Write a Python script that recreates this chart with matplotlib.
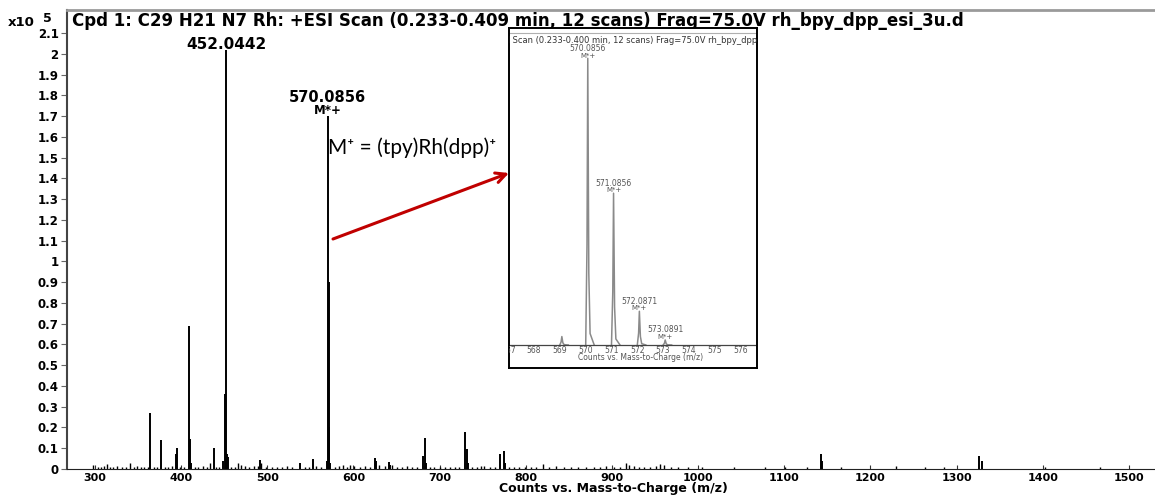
import matplotlib
matplotlib.use('Agg')
import matplotlib.pyplot as plt
import numpy as np

# main spectrum sticks, counts in units of 10^5
peak_mz = [364.0, 377.0, 394.5, 395.7, 408.8, 410.4, 411.4, 437.7, 448.8, 450.7,
           452.0442, 453.1, 454.0, 491.4, 537.4, 553.2, 569.1, 570.0856, 571.0856, 572.0871,
           573.0891, 625.0, 626.2, 640.8, 642.0, 681.1, 683.2, 684.2, 729.6, 731.2,
           732.8, 770.6, 774.7, 775.5, 1142.1, 1143.8, 1326.3, 1329.7]
peak_counts = [0.27, 0.14, 0.07, 0.10, 0.69, 0.145, 0.03, 0.10, 0.04, 0.36,
               2.02, 0.07, 0.06, 0.045, 0.03, 0.05, 0.04, 1.70, 0.90, 0.20,
               0.03, 0.055, 0.04, 0.035, 0.02, 0.065, 0.15, 0.03, 0.18, 0.095,
               0.03, 0.073, 0.089, 0.03, 0.071, 0.04, 0.065, 0.04]

# small peaks along the baseline
noise_mz = [298, 303, 307, 311, 314, 317, 321, 326, 331, 336,
            341, 345, 349, 353, 357, 361, 368, 372, 381, 385,
            389, 399, 403, 416, 420, 425, 430, 433, 441, 444,
            458, 462, 466, 470, 474, 479, 484, 489, 493, 498,
            505, 511, 517, 523, 529, 544, 548, 557, 562, 578,
            583, 588, 592, 596, 601, 607, 613, 619, 630, 636,
            645, 650, 656, 662, 668, 674, 689, 694, 700, 706,
            712, 718, 723, 738, 743, 748, 752, 758, 764, 781,
            786, 792, 799, 806, 812, 820, 827, 835, 844, 852,
            861, 870, 879, 886, 893, 902, 909, 916, 920, 925,
            931, 937, 944, 951, 956, 960, 968, 977, 988, 1004,
            1042, 1078, 1101, 1126, 1166, 1230, 1263, 1285, 1403, 1466]
noise_counts = [0.020, 0.010, 0.012, 0.015, 0.022, 0.012, 0.010, 0.014, 0.012, 0.010,
                0.030, 0.012, 0.015, 0.010, 0.012, 0.010, 0.012, 0.010, 0.012, 0.010,
                0.014, 0.012, 0.010, 0.012, 0.010, 0.014, 0.010, 0.030, 0.012, 0.010,
                0.012, 0.010, 0.030, 0.020, 0.014, 0.012, 0.015, 0.015, 0.030, 0.012,
                0.010, 0.012, 0.010, 0.014, 0.012, 0.010, 0.012, 0.014, 0.010, 0.012,
                0.015, 0.020, 0.012, 0.018, 0.014, 0.012, 0.015, 0.012, 0.020, 0.015,
                0.018, 0.012, 0.010, 0.014, 0.012, 0.010, 0.012, 0.010, 0.012, 0.010,
                0.012, 0.010, 0.012, 0.012, 0.010, 0.014, 0.015, 0.010, 0.012, 0.012,
                0.010, 0.012, 0.010, 0.012, 0.010, 0.025, 0.012, 0.015, 0.010, 0.012,
                0.010, 0.012, 0.010, 0.012, 0.015, 0.012, 0.010, 0.030, 0.020, 0.015,
                0.012, 0.010, 0.012, 0.015, 0.025, 0.020, 0.010, 0.012, 0.010, 0.012,
                0.012, 0.010, 0.012, 0.010, 0.012, 0.015, 0.012, 0.010, 0.012, 0.010]

# zoomed isotope pattern (inset)
inset_mz = [569.08, 570.0856, 571.0856, 572.0871, 573.0891]
inset_counts = [0.05, 1.70, 0.90, 0.20, 0.03]
inset_labels = ['', '570.0856', '571.0856', '572.0871', '573.0891']
inset_ticks = [567, 568, 569, 570, 571, 572, 573, 574, 575, 576]

x_ticks = list(range(300, 1501, 100))
y_ticks = [round(0.1 * i, 1) for i in range(22)]

title = 'Cpd 1: C29 H21 N7 Rh: +ESI Scan (0.233-0.409 min, 12 scans) Frag=75.0V rh_bpy_dpp_esi_3u.d'
inset_title = 'ESI Scan (0.233-0.400 min, 12 scans) Frag=75.0V rh_bpy_dpp_esi_3u.d'

W, H = 1155, 495
fig = plt.figure(figsize=(W / 100, H / 100), dpi=100)

# main axes
ax = fig.add_axes([67 / W, 26 / H, 1088 / W, 459 / H])
ax.vlines(noise_mz, 0, noise_counts, color='black', lw=1.0)
ax.vlines(peak_mz, 0, peak_counts, color='black', lw=1.4)
ax.set_xlim(267.5, 1530.2)
ax.set_ylim(0, 2.211)

ax.set_xticks(x_ticks)
ax.set_xticklabels([str(t) for t in x_ticks], fontsize=8, fontweight='bold')
ax.set_yticks(y_ticks)
ax.set_yticklabels(['%g' % t for t in y_ticks], fontsize=8.5, fontweight='bold')
ax.tick_params(axis='x', direction='in', length=3, pad=3, color='#333333')
ax.tick_params(axis='y', direction='out', length=4, pad=2, color='#666666')

ax.spines['right'].set_visible(False)
ax.spines['top'].set_color('#9a9a9a')
ax.spines['top'].set_linewidth(2)
ax.spines['left'].set_color('#444444')
ax.spines['left'].set_linewidth(1.5)
ax.spines['bottom'].set_color('#222222')

ax.set_xlabel('Counts vs. Mass-to-Charge (m/z)', fontsize=9, fontweight='bold')
ax.xaxis.set_label_coords(0.502, -0.042)
ax.xaxis.label.set_va('center')

ax.text(0.005, 0.976, title, transform=ax.transAxes, fontsize=12, fontweight='bold',
        ha='left', va='center')

# peak labels
ax.annotate('452.0442', (452.0442, 2.02), xytext=(0, 4), textcoords='offset points',
            ha='center', va='center', fontsize=11, fontweight='bold')
ax.annotate('M*+', (570.0856, 1.70), xytext=(0, 4.3), textcoords='offset points',
            ha='center', va='center', fontsize=8.5, fontweight='bold')
ax.annotate('570.0856', (570.0856, 1.70), xytext=(0, 13.5), textcoords='offset points',
            ha='center', va='center', fontsize=10.5, fontweight='bold')

# x10^5 multiplier
fig.text(8 / W, 1 - 23 / H, 'x10', fontsize=9.5, fontweight='bold', ha='left', va='center')
fig.text(43 / W, 1 - 19 / H, '5', fontsize=9, fontweight='bold', ha='left', va='center')

# formula and arrow
fig.text(328 / W, 1 - 148 / H, 'M\u207a = (tpy)Rh(dpp)\u207a', fontsize=15,
         family=['Lato', 'DejaVu Sans'], ha='left', va='center')
ax.annotate('', xy=(509, H - 173), xytext=(333, H - 239), xycoords='figure pixels',
            textcoords='figure pixels', annotation_clip=False,
            arrowprops=dict(arrowstyle='->', color='#c00000', lw=2.2,
                            mutation_scale=18, shrinkA=0, shrinkB=0))

# inset
ins = fig.add_axes([509 / W, (H - 368) / H, 248 / W, 340 / H])
ins.set_facecolor('white')
ins.set_xlim(567.03, 576.65)
ins.set_ylim(-0.1364, 1.8798)
ins.set_xticks([])
ins.set_yticks([])
for s in ins.spines.values():
    s.set_color('black')
    s.set_linewidth(1.4)

profile_dx = np.array([-0.08, -0.03, 0.0, 0.04, 0.09, 0.25])
profile_frac = np.array([0.0, 0.35, 1.0, 0.25, 0.04, 0.0])
for m, c in zip(inset_mz, inset_counts):
    ins.plot(m + profile_dx, c * profile_frac, color='#8a8a8a', lw=1.1)
ins.axhline(0, color='#444444', lw=0.9)
ins.axhline(1.85, color='#b0b0b0', lw=0.8)

for m, c, lab in zip(inset_mz, inset_counts, inset_labels):
    if lab:
        ins.annotate('M*+', (m, c), xytext=(0, 2), textcoords='offset points',
                     ha='center', va='center', fontsize=5, color='#555555')
        ins.annotate(lab, (m, c), xytext=(0, 7.3), textcoords='offset points',
                     ha='center', va='center', fontsize=5.5, color='#555555')

for t in inset_ticks:
    ins.text(t, -0.033, str(t), ha='center', va='center', fontsize=5.5,
             color='#555555', clip_on=True)
ins.text(572.15, -0.077, 'Counts vs. Mass-to-Charge (m/z)', ha='center', va='center',
         fontsize=5.5, color='#555555', clip_on=True)
ins.text(-0.05, 1.806, inset_title, transform=ins.get_yaxis_transform(),
         ha='left', va='center', fontsize=6, color='#333333', clip_on=True)

fig.savefig('out.png', dpi=100)
